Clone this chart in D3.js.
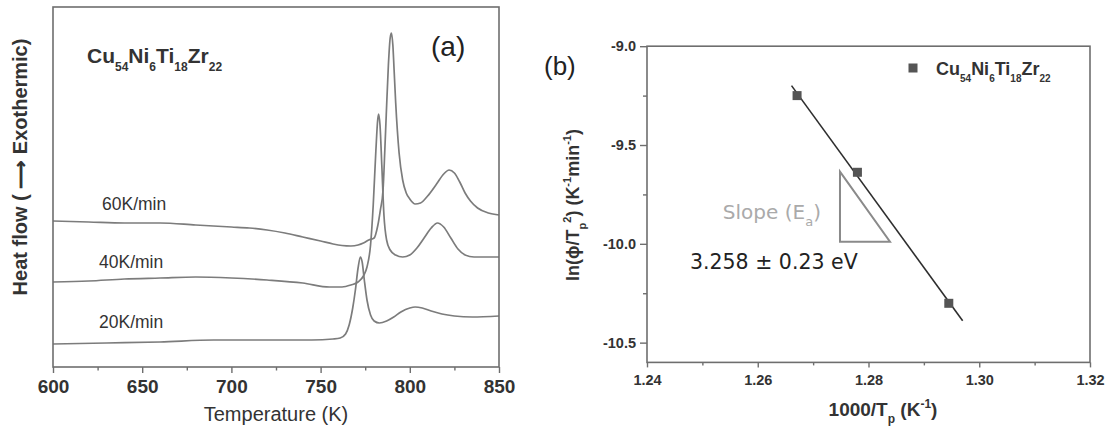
<!DOCTYPE html>
<html lang="en">
<head>
<meta charset="utf-8">
<title>DSC curves and Kissinger plot</title>
<style>
    body { margin: 0; background: #fff; }
    svg { display: block; font-family: "Liberation Sans", Arial, sans-serif; }
    .frame { fill: none; stroke: #6e6e6e; stroke-width: 1.6; }
    .axis path.domain { display: none; }
    .axis line { stroke: #6e6e6e; stroke-width: 1.4; }
    .axis text { fill: #333; font-weight: bold; font-family: "Liberation Sans", Arial, sans-serif; }
    .dsc { fill: none; stroke: #7c7c7c; stroke-width: 1.7; }
</style>
</head>
<body>
<svg id="chart" width="1107" height="426"></svg>
<script src="https://d3js.org/d3.v7.min.js"></script>
<script>
    // ---- panel (a): DSC traces, heat flow in arbitrary units ----
    const temp60 = [600, 620, 640, 660, 680, 700, 710, 720, 730, 740, 750, 757, 762, 767, 771, 774, 777, 780, 782, 783.5, 785, 786, 786.8, 788, 789, 789.7, 790.5, 791.2, 792.1, 794, 796, 798, 800, 803, 806, 810, 815, 819, 822, 825, 828, 831, 834, 838, 844, 850];
    const flow60 = [14.6, 14.5, 14.4, 14.4, 14.2, 14.0, 13.9, 13.7, 13.4, 13.0, 12.6, 12.3, 12.15, 12.1, 12.2, 12.4, 12.7, 12.9, 14.1, 15.7, 17.7, 21.7, 25.2, 30.2, 32.9, 33.4, 32.2, 29.7, 26.4, 21.4, 18.7, 17.4, 16.8, 16.3, 16.4, 17.1, 18.3, 19.3, 19.7, 19.4, 18.5, 17.4, 16.6, 15.9, 15.4, 15.2];

    const temp40 = [600, 620, 640, 660, 680, 700, 720, 740, 755, 762, 767, 771, 774, 776, 778, 779.5, 781, 782, 782.5, 783.3, 784.3, 785.5, 787, 789, 792, 796, 800, 804, 808, 812, 815.5, 819, 823, 827, 831, 836, 850];
    const flow40 = [8.5, 8.6, 8.8, 8.9, 9.0, 8.9, 8.7, 8.4, 8.0, 8.0, 8.2, 8.5, 9.1, 10.0, 12.2, 16.2, 21.7, 24.7, 25.3, 24.2, 20.2, 15.2, 12.7, 11.7, 11.2, 11.0, 11.2, 11.9, 12.9, 13.9, 14.4, 14.0, 12.9, 11.8, 11.2, 11.0, 11.0];

    const temp20 = [600, 630, 660, 690, 720, 745, 757, 761, 764, 766, 768, 769.5, 771, 772.3, 773.3, 774.5, 776, 778, 780, 783, 787, 791, 795, 800, 803, 807, 812, 818, 825, 835, 850];
    const flow20 = [2.3, 2.4, 2.5, 2.7, 2.7, 2.7, 2.8, 2.9, 3.3, 4.2, 5.9, 7.7, 9.9, 11.0, 10.5, 8.7, 6.7, 5.2, 4.6, 4.4, 4.6, 5.0, 5.5, 5.9, 6.0, 5.9, 5.6, 5.3, 5.1, 5.0, 5.1];

    const rateNames = ["60K/min", "40K/min", "20K/min"];
    const rateLabelT = [627.5, 625.8, 625.8];
    const rateLabelY = [15.7, 9.9, 3.9];
    const tempTicks = [600, 650, 700, 750, 800, 850];
    const tempMinor = [625, 675, 725, 775, 825];

    // ---- panel (b): Kissinger plot ----
    const invTp = [1.2671, 1.2780, 1.2945];
    const lnRate = [-9.25, -9.638, -10.301];
    const fitRange = [1.2661, 1.2970];
    const invTicks = [1.24, 1.26, 1.28, 1.30, 1.32];
    const invMinor = [1.25, 1.27, 1.29, 1.31];
    const lnTicks = [-9.0, -9.5, -10.0, -10.5];
    const lnTickLabels = ["-9.0", "-9.5", "-10.0", "-10.5"];
    const lnMinor = [-9.25, -9.75, -10.25];
    const triX = [1.27485, 1.27485, 1.28388];
    const triY = [-9.635, -9.989, -9.989];

    const svg = d3.select("#chart");
    const alloy = [{t: "Cu"}, {t: "54", sub: true}, {t: "Ni"}, {t: "6", sub: true}, {t: "Ti"}, {t: "18", sub: true}, {t: "Zr"}, {t: "22", sub: true}];

    // text with sub/superscripts built from tspans
    function richText(g, x, y, parts, size, small, attrs)
    {
        const t = g.append("text").attr("x", x).attr("y", y).attr("font-size", size);
        Object.entries(attrs || {}).forEach(([k, v]) => t.attr(k, v));
        let shift = 0;
        parts.forEach(p =>
        {
            const target = p.sub ? size * 0.38 : p.sup ? -size * 0.42 : 0;
            t.append("tspan").attr("dy", target - shift)
                .attr("font-size", (p.sub || p.sup) ? small : size)
                .text(p.t);
            shift = target;
        });
        return t;
    }

    // ================= panel (a) =================
    const xA = d3.scaleLinear().domain([600, 850]).range([53, 499]);
    const yA = d3.scaleLinear().domain([0, 36]).range([367, 7]);
    const gA = svg.append("g");

    gA.append("g").attr("class", "axis").attr("transform", `translate(0,${yA(0)})`)
        .call(d3.axisBottom(xA).tickValues(tempMinor).tickSize(3.5).tickFormat(""));
    gA.append("g").attr("class", "axis").attr("transform", `translate(0,${yA(0)})`)
        .call(d3.axisBottom(xA).tickValues(tempTicks).tickSize(6).tickPadding(7).tickFormat(d3.format("d")))
        .selectAll("text").attr("font-size", 19);

    const lineA = d3.line().x(d => xA(d[0])).y(d => yA(d[1])).curve(d3.curveMonotoneX);
    [[temp60, flow60], [temp40, flow40], [temp20, flow20]].forEach(([t, f]) =>
    {
        gA.append("path").attr("class", "dsc").attr("d", lineA(t.map((v, i) => [v, f[i]])));
    });

    gA.append("rect").attr("class", "frame")
        .attr("x", xA(600)).attr("y", yA(36)).attr("width", xA(850) - xA(600)).attr("height", yA(0) - yA(36));

    rateNames.forEach((name, i) =>
    {
        gA.append("text").attr("x", xA(rateLabelT[i])).attr("y", yA(rateLabelY[i]))
            .attr("font-size", 17.5).attr("fill", "#333").text(name);
    });

    richText(gA, 87, 63, alloy, 21, 12, {"font-weight": "bold", "fill": "#333"});
    gA.append("text").attr("x", 431).attr("y", 56).attr("font-size", 28).attr("fill", "#222").text("(a)");

    gA.append("text").attr("x", xA(725)).attr("y", 421).attr("text-anchor", "middle")
        .attr("font-size", 20).attr("fill", "#333").text("Temperature (K)");
    gA.append("text").attr("transform", "translate(27,167) rotate(-90)").attr("text-anchor", "middle")
        .attr("font-size", 20).attr("font-weight", "bold").attr("fill", "#333")
        .text("Heat flow  ( \u27F6  Exothermic)");

    // ================= panel (b) =================
    const xB = d3.scaleLinear().domain([1.24, 1.32]).range([647, 1090]);
    const yB = d3.scaleLinear().domain([-10.6, -9.0]).range([362.4, 46.2]);
    const gB = svg.append("g");

    gB.append("g").attr("class", "axis").attr("transform", `translate(0,${yB(-10.6)})`)
        .call(d3.axisBottom(xB).tickValues(invMinor).tickSize(3).tickFormat(""));
    gB.append("g").attr("class", "axis").attr("transform", `translate(0,${yB(-10.6)})`)
        .call(d3.axisBottom(xB).tickValues(invTicks).tickSize(5).tickPadding(7).tickFormat(d3.format(".2f")))
        .selectAll("text").attr("font-size", 14.5);
    gB.append("g").attr("class", "axis").attr("transform", `translate(${xB(1.24)},0)`)
        .call(d3.axisLeft(yB).tickValues(lnMinor).tickSize(4).tickFormat(""));
    gB.append("g").attr("class", "axis").attr("transform", `translate(${xB(1.24)},0)`)
        .call(d3.axisLeft(yB).tickValues(lnTicks).tickSize(7).tickPadding(4).tickFormat((d, i) => lnTickLabels[i]))
        .selectAll("text").attr("font-size", 14.5);

    gB.append("rect").attr("class", "frame")
        .attr("x", xB(1.24)).attr("y", yB(-9.0)).attr("width", xB(1.32) - xB(1.24)).attr("height", yB(-10.6) - yB(-9.0));

    // slope triangle
    gB.append("path")
        .attr("d", d3.line()(triX.map((v, i) => [xB(v), yB(triY[i])])) + "Z")
        .attr("fill", "none").attr("stroke", "#8a8a8a").attr("stroke-width", 2);

    // least-squares fit through the three peaks
    const mx = d3.mean(invTp), my = d3.mean(lnRate);
    const slope = d3.sum(invTp, (x, i) => (x - mx) * (lnRate[i] - my)) / d3.sum(invTp, x => (x - mx) ** 2);
    const fitY = x => my + slope * (x - mx);
    gB.append("line")
        .attr("x1", xB(fitRange[0])).attr("y1", yB(fitY(fitRange[0])))
        .attr("x2", xB(fitRange[1])).attr("y2", yB(fitY(fitRange[1])))
        .attr("stroke", "#2e2e2e").attr("stroke-width", 1.6);

    gB.selectAll("rect.pt").data(invTp).join("rect").attr("class", "pt")
        .attr("x", d => xB(d) - 4.5).attr("y", (d, i) => yB(lnRate[i]) - 4.5)
        .attr("width", 9).attr("height", 9).attr("fill", "#555");

    // legend
    gB.append("rect").attr("x", 908.5).attr("y", 63.5).attr("width", 9).attr("height", 9).attr("fill", "#555");
    richText(gB, 936, 75, alloy, 18, 10, {"font-weight": "bold", "fill": "#333"});

    richText(gB, xB(1.2537), yB(-9.872), [{t: "Slope (E"}, {t: "a", sub: true}, {t: ")"}], 20, 13,
        {"fill": "#aaa", "font-family": "DejaVu Sans, sans-serif"});
    gB.append("text").attr("x", xB(1.24776)).attr("y", yB(-10.128))
        .attr("font-size", 20.5).attr("fill", "#222").attr("font-family", "DejaVu Sans, sans-serif")
        .text("3.258 \u00B1 0.23 eV");

    gB.append("text").attr("x", 544).attr("y", 75).attr("font-size", 26).attr("fill", "#222").text("(b)");

    richText(gB, 883, 416, [{t: "1000/T"}, {t: "p", sub: true}, {t: " (K"}, {t: "-1", sup: true}, {t: ")"}], 19, 12,
        {"font-weight": "bold", "fill": "#333", "text-anchor": "middle"});
    richText(gB.append("g").attr("transform", "translate(579,205) rotate(-90)"), 0, 0,
        [{t: "ln(\u03D5/T"}, {t: "p", sub: true}, {t: "2", sup: true}, {t: ") (K"}, {t: "-1", sup: true}, {t: "min"}, {t: "-1", sup: true}, {t: ")"}],
        18, 11, {"font-weight": "bold", "fill": "#333", "text-anchor": "middle"});
</script>
</body>
</html>
